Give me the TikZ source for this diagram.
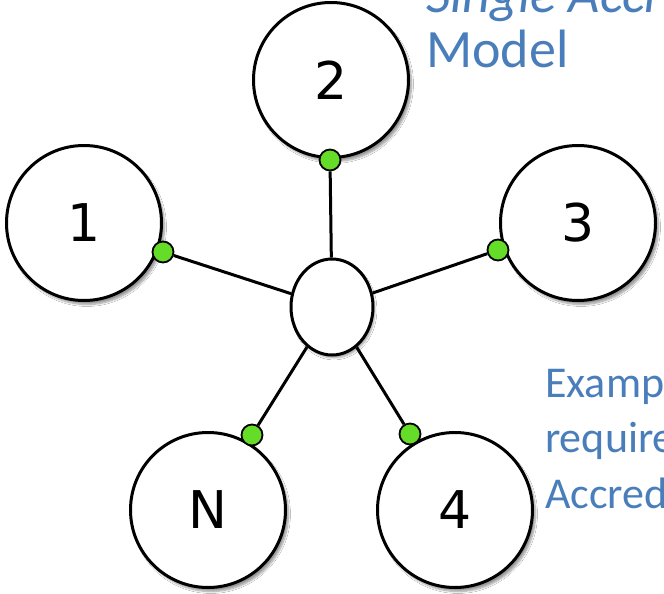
\documentclass[tikz,border=0pt]{standalone}
\usepackage{fontspec}
\setmainfont{Carlito}
\newfontfamily\labelfont{DejaVu Sans}
\usetikzlibrary{shapes.geometric,shadows.blur}
\definecolor{textblue}{RGB}{74,126,187}
\definecolor{portgreen}{RGB}{100,220,40}

\begin{document}
\begin{tikzpicture}[x=1pt, y=-1pt, peer/.style = {shape=circle, draw, line width=3pt, fill=white, minimum size=155pt, inner sep=0pt, font=\labelfont\fontsize{52}{52}\selectfont, blur shadow={shadow xshift=3pt, shadow yshift=-4pt, shadow blur steps=8, shadow opacity=40}}, hub/.style = {shape=ellipse, draw, line width=3pt, fill=white, minimum width=82pt, minimum height=96pt, inner sep=0pt, blur shadow={shadow xshift=2pt, shadow yshift=-3pt, shadow opacity=35}}, port/.style = {shape=circle, draw, line width=1.8pt, fill=portgreen, minimum size=21pt, inner sep=0pt}, link/.style = {line width=3pt}, note/.style = {anchor=base west, inner sep=0pt, text=textblue}]
	\clip (0,0) rectangle (664,594);
	\fill[white] (0,0) rectangle (664,594);
	% members
	\node[peer] (p1) at (84,223) {1};
	\node[peer] (p2) at (331,80) {2};
	\node[peer] (p3) at (578,223) {3};
	\node[peer] (p4) at (455,510) {4};
	\node[peer] (pN) at (208,510) {N};
	\node[hub] (hub) at (332,307) {};
	% connection points
	\node[port] (d1) at (163,252) {};
	\node[port] (d2) at (330,160) {};
	\node[port] (d3) at (498,250) {};
	\node[port] (d4) at (410,434) {};
	\node[port] (dN) at (252,435) {};
	\foreach \d in {d1,d2,d3,d4,dN}
		\draw[link] (hub) -- (\d);
	% text
	\node[note, font=\fontsize{54}{54}\selectfont\itshape] (title1) at (426,13) {Single Accreditation};
	\node[note, font=\fontsize{54}{54}\selectfont] (title2) at (426,67) {Model};
	\node[note, font=\fontsize{44}{44}\selectfont] (ex1) at (545,397) {Example};
	\node[note, font=\fontsize{44}{44}\selectfont] (ex2) at (545,452) {requires};
	\node[note, font=\fontsize{44}{44}\selectfont] (ex3) at (545,508) {Accreditation};
\end{tikzpicture}
\end{document}
